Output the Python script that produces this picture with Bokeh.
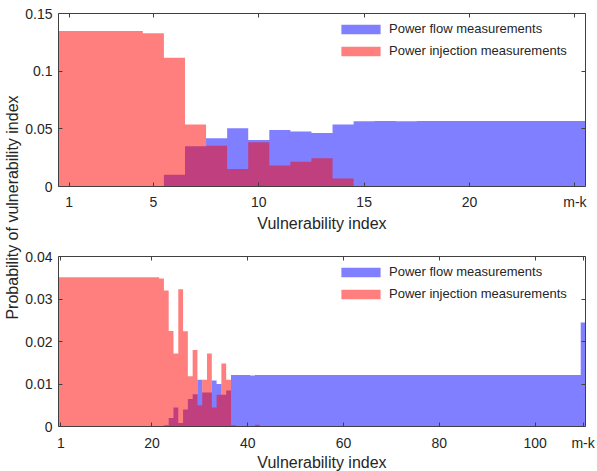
import numpy as np
from bokeh.plotting import figure
from bokeh.models import (FixedTicker, LinearAxis, Range1d, Legend, LegendItem,
                          Label, ColumnDataSource)
from bokeh.layouts import column, row
from bokeh.embed import file_html
from bokeh.resources import INLINE

# ---------------- data ----------------
top_index = list(range(1, 26))
top_flow = [0, 0, 0, 0, 0, 0.0102, 0.0348, 0.0418, 0.0505, 0.0403,
            0.0490, 0.0476, 0.0464, 0.0537, 0.0566, 0.0568, 0.0566, 0.0568,
            0.0568, 0.0568, 0.0568, 0.0568, 0.0568, 0.0568, 0.0568]
top_injection = [0.1349, 0.1349, 0.1349, 0.1349, 0.1329, 0.1117, 0.0537,
                 0.0354, 0.0151, 0.0383, 0.0183, 0.0215, 0.0244, 0.0070,
                 0, 0, 0, 0, 0, 0, 0, 0, 0, 0, 0]
top_xticks = [1, 5, 10, 15, 20, 25]
top_xtick_labels = ["1", "5", "10", "15", "20", "m-k"]
top_yticks = [0, 0.05, 0.1, 0.15]
top_ytick_labels = ["0", "0.05", "0.1", "0.15"]

bot_index = list(range(1, 111))
bot_flow = [
    0, 0, 0, 0, 0, 0, 0, 0, 0, 0,
    0, 0, 0, 0, 0, 0, 0, 0, 0, 0,
    0, 0, 0.0003, 0.0020, 0.0045, 0.0008, 0.0040, 0.0065, 0.0076, 0.0110,
    0.0080, 0.0080, 0.0108, 0.0100, 0.0075, 0.0085, 0.0121, 0.0121, 0.0121, 0.0121,
    0.0120, 0.0121, 0.0121, 0.0121, 0.0121, 0.0121, 0.0121, 0.0121, 0.0121, 0.0121,
    0.0121, 0.0121, 0.0121, 0.0121, 0.0121, 0.0121, 0.0121, 0.0121, 0.0121, 0.0121,
    0.0121, 0.0121, 0.0121, 0.0121, 0.0121, 0.0121, 0.0121, 0.0121, 0.0121, 0.0121,
    0.0121, 0.0121, 0.0121, 0.0121, 0.0121, 0.0121, 0.0121, 0.0121, 0.0121, 0.0121,
    0.0121, 0.0121, 0.0121, 0.0121, 0.0121, 0.0121, 0.0121, 0.0121, 0.0121, 0.0121,
    0.0121, 0.0121, 0.0121, 0.0121, 0.0121, 0.0121, 0.0121, 0.0121, 0.0121, 0.0121,
    0.0121, 0.0121, 0.0121, 0.0121, 0.0121, 0.0121, 0.0121, 0.0121, 0.0121, 0.0245,
]
bot_injection = [
    0.0351, 0.0351, 0.0351, 0.0351, 0.0351, 0.0351, 0.0351, 0.0351, 0.0351, 0.0351,
    0.0351, 0.0351, 0.0351, 0.0351, 0.0351, 0.0351, 0.0351, 0.0351, 0.0351, 0.0351,
    0.0351, 0.0348, 0.0320, 0.0225, 0.0172, 0.0323, 0.0224, 0.0118, 0.0180, 0.0050,
    0.0110, 0.0172, 0.0045, 0.0075, 0.0148, 0.0110, 0.0003, 0, 0, 0,
    0, 0.0004, 0, 0, 0, 0, 0, 0, 0, 0,
    0, 0, 0, 0, 0, 0, 0, 0, 0, 0,
    0, 0, 0, 0, 0, 0, 0, 0, 0, 0,
    0, 0, 0, 0, 0, 0, 0, 0, 0, 0,
    0, 0, 0, 0, 0, 0, 0, 0, 0, 0,
    0, 0, 0, 0, 0, 0, 0, 0, 0, 0,
    0, 0, 0, 0, 0, 0, 0, 0, 0, 0,
]
bot_xticks = [1, 20, 40, 60, 80, 100, 110]
bot_xtick_labels = ["1", "20", "40", "60", "80", "100", "m-k"]
bot_yticks = [0, 0.01, 0.02, 0.03, 0.04]
bot_ytick_labels = ["0", "0.01", "0.02", "0.03", "0.04"]

series_names = ["Power flow measurements", "Power injection measurements"]
x_label = "Vulnerability index"
y_label = "Probability of vulnerability index"

FONT = "Liberation Sans"
TXT = "#262626"
AXC = "#404040"
BLUE = "#0000ff"
RED = "#ff0000"


def step_source(index, values):
    edges = [i - 0.5 for i in index] + [index[-1] + 0.5]
    vals = list(values) + [values[-1]]
    return ColumnDataSource(dict(x=edges, y=vals))


def style_axis(ax, ticks, labels, show, standoff):
    ax.ticker = FixedTicker(ticks=ticks)
    ax.major_tick_in = 4
    ax.major_tick_out = 0
    ax.minor_tick_in = 0
    ax.minor_tick_out = 0
    ax.axis_line_color = AXC
    ax.major_tick_line_color = AXC
    ax.major_label_text_font = FONT
    ax.major_label_text_font_size = "14px"
    ax.major_label_text_color = TXT
    ax.major_label_standoff = standoff
    if show:
        ax.major_label_overrides = {t: l for t, l in zip(ticks, labels)}
    else:
        ax.major_label_overrides = {t: "" for t in ticks}
        ax.major_label_standoff = 0


def panel(index, flow, inj, xticks, xlabels, yticks, ylabels, yr,
          fh, bt, bb, leg_loc, xstand, lstand):
    p = figure(frame_width=527, frame_height=fh,
               x_range=Range1d(index[0] - 0.5, index[-1] + 0.5),
               y_range=Range1d(*yr),
               output_backend="svg", toolbar_location=None,
               min_border_left=36, min_border_right=12,
               min_border_top=bt, min_border_bottom=bb)
    p.xgrid.visible = False
    p.ygrid.visible = False
    p.outline_line_color = None
    p.background_fill_color = "white"

    rb = p.varea_step(x="x", y1=0, y2="y", step_mode="after",
                      source=step_source(index, flow),
                      fill_color=BLUE, fill_alpha=0.5)
    rr = p.varea_step(x="x", y1=0, y2="y", step_mode="after",
                      source=step_source(index, inj),
                      fill_color=RED, fill_alpha=0.5)

    style_axis(p.xaxis[0], xticks, xlabels, True, xstand)
    style_axis(p.yaxis[0], yticks, ylabels, True, 6)
    p.xaxis[0].axis_label = x_label
    p.xaxis[0].axis_label_text_font = FONT
    p.xaxis[0].axis_label_text_font_size = "16px"
    p.xaxis[0].axis_label_text_font_style = "normal"
    p.xaxis[0].axis_label_text_color = TXT
    p.xaxis[0].axis_label_standoff = lstand

    ax_top = LinearAxis()
    style_axis(ax_top, xticks, xlabels, False, 0)
    p.add_layout(ax_top, "above")
    ax_right = LinearAxis()
    style_axis(ax_right, yticks, ylabels, False, 0)
    p.add_layout(ax_right, "right")

    legend = Legend(items=[LegendItem(label=series_names[0], renderers=[rb]),
                           LegendItem(label=series_names[1], renderers=[rr])],
                    location=leg_loc, glyph_width=49, glyph_height=12,
                    label_height=12, spacing=7, padding=0, margin=0,
                    label_standoff=4, border_line_alpha=0,
                    background_fill_alpha=0,
                    label_text_font=FONT, label_text_font_size="13px",
                    label_text_color=TXT)
    p.add_layout(legend)
    return p


p1 = panel(top_index, top_flow, top_injection, top_xticks, top_xtick_labels,
           top_yticks, top_ytick_labels, (0, 0.15), 173, 13, 50,
           (278, 128), 7, 2)
p2 = panel(bot_index, bot_flow, bot_injection, bot_xticks, bot_xtick_labels,
           bot_yticks, bot_ytick_labels, (0, 0.04), 170, 20, 45,
           (278, 125), 8, 0)

lab = figure(width=22, height=471, x_range=Range1d(0, 1), y_range=Range1d(0, 1),
             output_backend="svg", toolbar_location=None, min_border=0,
             x_axis_location=None, y_axis_location=None, outline_line_color=None)
lab.grid.visible = False
lab.add_layout(Label(x=12, y=471 - 207, x_units="screen", y_units="screen",
                     text=y_label, angle=np.pi / 2, text_align="center",
                     text_baseline="middle", text_font=FONT,
                     text_font_size="16px", text_color=TXT))

layout = row(lab, column(p1, p2))
open("out.html", "w").write(file_html(layout, INLINE))
